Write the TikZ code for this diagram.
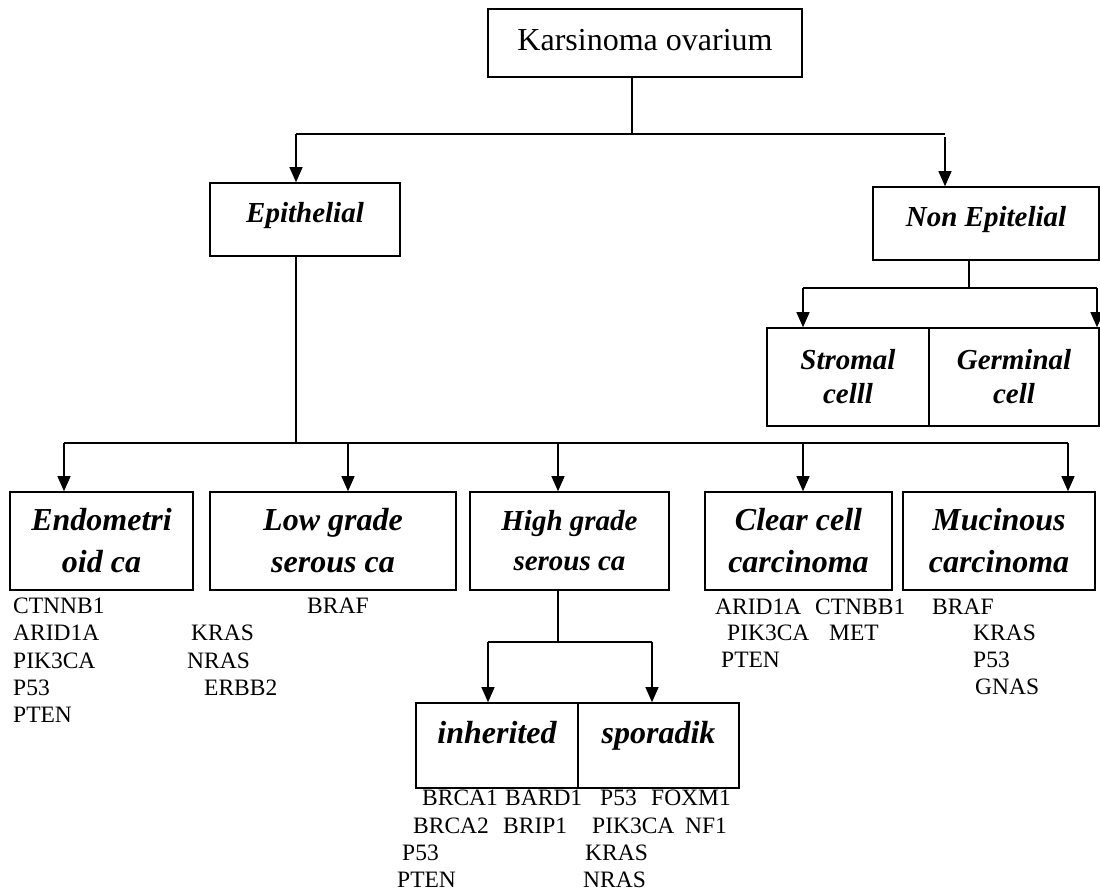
\documentclass[tikz,border=0pt]{standalone}
\usepackage{fontspec}
\setmainfont{Liberation Serif}
\usetikzlibrary{arrows.meta}
\tikzset{
  box/.style={draw, line width=1.6pt, inner sep=0pt, align=center},
  lab/.style={font=\fontsize{32}{42}\selectfont\bfseries\itshape},
  labs/.style={font=\fontsize{29}{40}\selectfont\bfseries\itshape},
  gene/.style={anchor=west, inner sep=0pt, font=\fontsize{23.5}{27}\selectfont},
  hline/.style={line width=1.8pt},
  vline/.style={line width=1.2pt},
  arr/.style={line width=1.2pt, -{Triangle[length=15pt,width=13pt]}}
}
\begin{document}
\begin{tikzpicture}[x=1pt,y=-1pt]
\useasboundingbox (0,0) rectangle (1100,892);
% boxes
\node[box, minimum width=314, minimum height=68, text height=22.4pt, text depth=7.3pt,
      font=\fontsize{32}{38}\selectfont] (ko) at (645,43) {Karsinoma ovarium};
\node[box, labs, minimum width=190, minimum height=73, text height=20.3pt, text depth=15pt] (epi) at (305,219.5) {Epithelial};
\node[box, labs, minimum width=226, minimum height=73, text height=20.3pt, text depth=14.2pt] (nonepi) at (986,223.5) {Non Epitelial};
\node[box, font=\fontsize{29}{34}\selectfont\bfseries\itshape, minimum width=162, minimum height=98] (strom) at (848,377) {Stromal\\celll};
\node[box, font=\fontsize{29}{34}\selectfont\bfseries\itshape, minimum width=170, minimum height=98] (germ) at (1014,377) {Germinal\\cell};
\node[box, lab, minimum width=183, minimum height=98] (endo) at (101.5,541) {Endometri\\oid ca};
\node[box, lab, minimum width=246, minimum height=98] (low) at (333,541) {Low grade\\serous ca};
\node[box, labs, minimum width=199, minimum height=98] (high) at (569.5,541) {High grade\\serous ca};
\node[box, lab, minimum width=187, minimum height=98] (clear) at (798.5,541) {Clear cell\\carcinoma};
\node[box, lab, minimum width=192, minimum height=98] (muc) at (999,541) {Mucinous\\carcinoma};
\node[box, lab, minimum width=162, minimum height=85, text height=22.4pt, text depth=26.3pt] (inh) at (497,745.5) {inherited};
\node[box, lab, minimum width=161, minimum height=85, text height=22.4pt, text depth=26.3pt] (spo) at (658.5,745.5) {sporadik};
% junction coordinates
\coordinate (j1) at (632,134);
\coordinate (b1L) at (296,134);
\coordinate (b1R) at (945,134);
\coordinate (b1Rs) at (945,137);
\coordinate (j2) at (969,288);
\coordinate (b2L) at (803,288);
\coordinate (b2R) at (1097,288);
\coordinate (j3) at (296,443);
\coordinate (a1) at (64,443);
\coordinate (a2) at (348,443);
\coordinate (a3) at (558,443);
\coordinate (a4) at (803,443);
\coordinate (a5) at (1068,443);
\coordinate (j4) at (558,642);
\coordinate (b4L) at (488,642);
\coordinate (b4R) at (652,642);
% connectors
\draw[vline] (j1 |- ko.south) -- (j1);
\draw[hline] (b1L) -- (b1R);
\draw[arr] (b1L) -- (b1L |- epi.north);
\draw[arr] (b1Rs) -- (b1Rs |- nonepi.north);
\draw[vline] (j2 |- nonepi.south) -- (j2);
\draw[hline] (b2L) -- (b2R);
\draw[arr] (b2L) -- (b2L |- strom.north);
\draw[arr] (b2R) -- (b2R |- germ.north);
\draw[vline] (j3 |- epi.south) -- (j3);
\draw[hline] (a1) -- (a5);
\draw[arr] (a1) -- (a1 |- endo.north);
\draw[arr] (a2) -- (a2 |- low.north);
\draw[arr] (a3) -- (a3 |- high.north);
\draw[arr] (a4) -- (a4 |- clear.north);
\draw[arr] (a5) -- (a5 |- muc.north);
\draw[vline] (j4 |- high.south) -- (j4);
\draw[hline] (b4L) -- (b4R);
\draw[arr] (b4L) -- (b4L |- inh.north);
\draw[arr] (b4R) -- (b4R |- spo.north);
% genes: endometrioid
\node[gene] (e1) at (13,606) {CTNNB1};
\node[gene] (e2) at (13,633) {ARID1A};
\node[gene] (e3) at (13,661) {PIK3CA};
\node[gene] (e4) at (13,688) {P53};
\node[gene] (e5) at (13,715) {PTEN};
% low grade
\node[gene] (l1) at (307,606) {BRAF};
\node[gene] (l2) at (191,633) {KRAS};
\node[gene] (l3) at (187,661) {NRAS};
\node[gene] (l4) at (204,688) {ERBB2};
% clear cell
\node[gene] (c1) at (715,607) {ARID1A};
\node[gene] (c2) at (815,607) {CTNBB1};
\node[gene] (c3) at (727,633) {PIK3CA};
\node[gene] (c4) at (829,633) {MET};
\node[gene] (c5) at (721,660) {PTEN};
% mucinous
\node[gene] (m1) at (932,607) {BRAF};
\node[gene] (m2) at (973,633) {KRAS};
\node[gene] (m3) at (973,660) {P53};
\node[gene] (m4) at (975,687) {GNAS};
% inherited
\node[gene] (i1) at (422,798) {BRCA1};
\node[gene] (i2) at (505,798) {BARD1};
\node[gene] (i3) at (413,826) {BRCA2};
\node[gene] (i4) at (503,826) {BRIP1};
\node[gene] (i5) at (402,853) {P53};
\node[gene] (i6) at (397,880) {PTEN};
% sporadik
\node[gene] (s1) at (600,798) {P53};
\node[gene] (s2) at (651,798) {FOXM1};
\node[gene] (s3) at (592,826) {PIK3CA};
\node[gene] (s4) at (685,826) {NF1};
\node[gene] (s5) at (585,853) {KRAS};
\node[gene] (s6) at (583,880) {NRAS};
\end{tikzpicture}
\end{document}
